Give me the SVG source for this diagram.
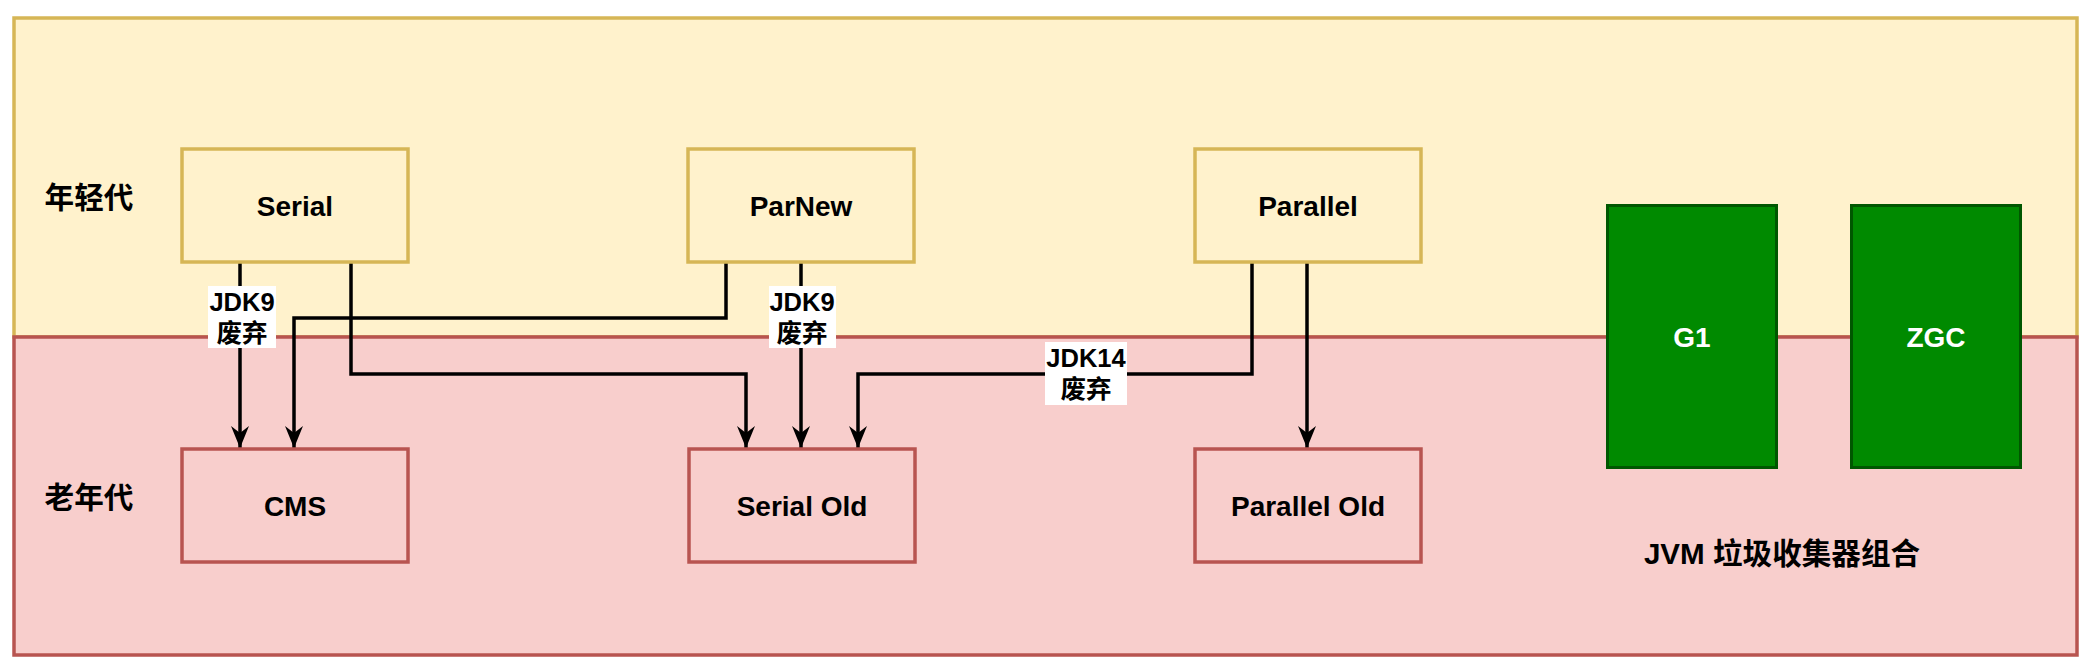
<svg xmlns="http://www.w3.org/2000/svg" width="2089" height="670" viewBox="0 0 2089 670">
<style>
.t{font-family:"Liberation Sans","Noto Sans CJK SC",sans-serif;font-weight:bold;text-anchor:middle;dominant-baseline:central;fill:#000}
.m{font-size:28px}
.c{font-size:29.6px}
.e{font-size:25.5px}
.w{fill:#fff}
.young{fill:#fff2cc;stroke:#d6b656;stroke-width:3.5}
.old{fill:#f8cecc;stroke:#b85450;stroke-width:3.5}
.g{fill:#008a00;stroke:#005700;stroke-width:3}
.ln{fill:none;stroke:#000;stroke-width:3.5;marker-end:url(#arr)}
.lb{fill:#fff}
</style>
<defs>
<marker id="arr" viewBox="0 0 22 18" refX="22" refY="9" markerWidth="22" markerHeight="18" markerUnits="userSpaceOnUse" orient="auto">
<path d="M0,0 L22,9 L0,18 L7,9 Z" fill="#000"/>
</marker>
</defs>
<g id="young-gen">
<rect class="young" x="14" y="18" width="2063" height="319"/>
<text class="t c" x="89" y="197">年轻代</text>
</g>
<g id="old-gen">
<rect class="old" x="14" y="337" width="2063" height="318"/>
<text class="t c" x="89" y="497">老年代</text>
</g>
<g id="connectors">
<path class="ln" d="M240,262 V448"/>
<path class="ln" d="M726,262 V318 H294 V448"/>
<path class="ln" d="M351,262 V374 H746 V448"/>
<path class="ln" d="M801,262 V448"/>
<path class="ln" d="M1252,262 V374 H858 V448"/>
<path class="ln" d="M1307,262 V448"/>
<rect class="lb" x="208" y="286" width="68" height="62"/>
<text class="t e" x="242" y="302">JDK9</text>
<text class="t e" x="242" y="333">废弃</text>
<rect class="lb" x="769" y="286" width="67" height="62"/>
<text class="t e" x="802" y="302">JDK9</text>
<text class="t e" x="802" y="333">废弃</text>
<rect class="lb" x="1045" y="342" width="82" height="63"/>
<text class="t e" x="1086" y="358">JDK14</text>
<text class="t e" x="1086" y="389">废弃</text>
</g>
<g id="serial"><rect class="young" x="182" y="149" width="226" height="113"/><text class="t m" x="295" y="206">Serial</text></g>
<g id="parnew"><rect class="young" x="688" y="149" width="226" height="113"/><text class="t m" x="801" y="206">ParNew</text></g>
<g id="parallel"><rect class="young" x="1195" y="149" width="226" height="113"/><text class="t m" x="1308" y="206">Parallel</text></g>
<g id="cms"><rect class="old" x="182" y="449" width="226" height="113"/><text class="t m" x="295" y="506">CMS</text></g>
<g id="serial-old"><rect class="old" x="689" y="449" width="226" height="113"/><text class="t m" x="802" y="506">Serial Old</text></g>
<g id="parallel-old"><rect class="old" x="1195" y="449" width="226" height="113"/><text class="t m" x="1308" y="506">Parallel Old</text></g>
<g id="g1"><rect class="g" x="1607.5" y="205.5" width="169" height="262"/><text class="t m w" x="1692" y="337">G1</text></g>
<g id="zgc"><rect class="g" x="1851.5" y="205.5" width="169" height="262"/><text class="t m w" x="1936" y="337">ZGC</text></g>
<g id="title"><text class="t c" x="1782" y="553">JVM 垃圾收集器组合</text></g>
</svg>
